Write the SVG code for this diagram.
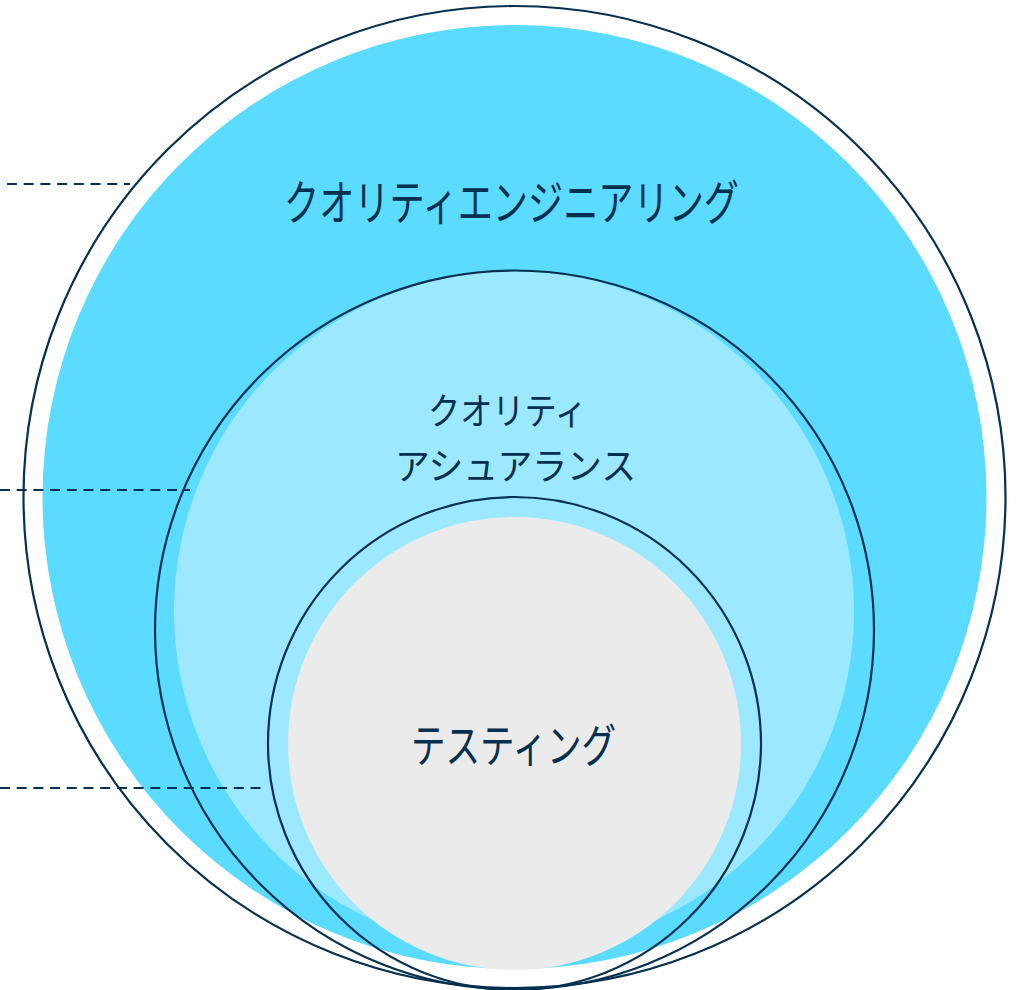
<svg xmlns="http://www.w3.org/2000/svg" width="1023" height="990" viewBox="0 0 1023 990">
  <style>
    .ring { fill: none; stroke: #06304f; stroke-width: 2.2; }
    .lead { fill: none; stroke: #06304f; stroke-width: 2.2; stroke-dasharray: 10 6.7; }
    .lbl { font-family: "Noto Sans CJK JP", "Noto Sans", sans-serif; fill: #06304f; font-weight: 400; }
  </style>
  <rect x="0" y="0" width="1023" height="990" fill="#ffffff"/>
  <g id="node-quality-engineering">
    <circle class="ring" cx="514.5" cy="497" r="491"/>
    <circle cx="514.5" cy="497" r="472" fill="#5bdbff"/>
    <text class="lbl" x="284" y="220" font-size="48" textLength="455" lengthAdjust="spacingAndGlyphs">クオリティエンジニアリング</text>
  </g>
  <g id="node-quality-assurance">
    <circle cx="514" cy="611" r="340" fill="#9ce9ff"/>
    <circle class="ring" cx="514.5" cy="630" r="359.5"/>
    <text class="lbl" x="428" y="425" font-size="37" textLength="159" lengthAdjust="spacingAndGlyphs">クオリティ</text>
    <text class="lbl" x="395" y="480" font-size="37" textLength="241" lengthAdjust="spacingAndGlyphs">アシュアランス</text>
  </g>
  <g id="node-testing">
    <circle cx="514.5" cy="743.5" r="226.5" fill="#ebebeb"/>
    <circle class="ring" cx="514.5" cy="743.5" r="246.5"/>
    <text class="lbl" x="411" y="762" font-size="46" textLength="205" lengthAdjust="spacingAndGlyphs">テスティング</text>
  </g>
  <g id="connectors">
    <line class="lead" x1="7" y1="184" x2="130" y2="184"/>
    <line class="lead" x1="0" y1="490" x2="190" y2="490"/>
    <line class="lead" x1="0" y1="788" x2="264" y2="788"/>
  </g>
</svg>
